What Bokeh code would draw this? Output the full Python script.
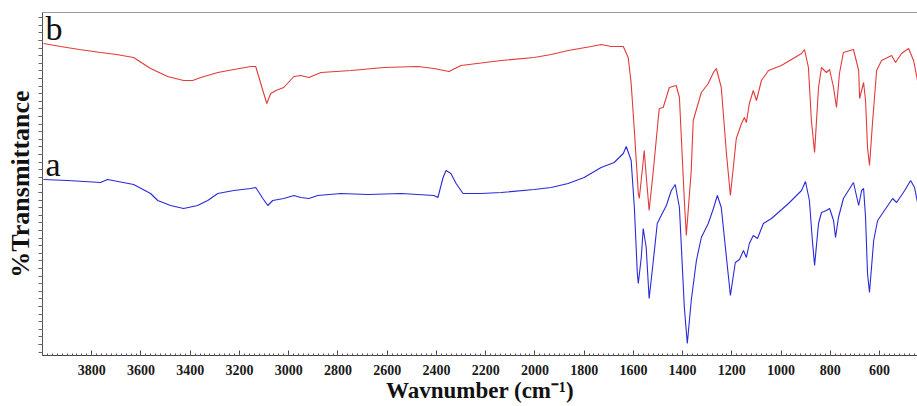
from bokeh.plotting import figure
from bokeh.models import Range1d, FixedTicker, LinearAxis, Label
from bokeh.embed import file_html
from bokeh.resources import INLINE
import numpy as np

# Spectrum b (red)
wn_b = [3996, 3927, 3850, 3764, 3700, 3630, 3561, 3492, 3427, 3390, 3357, 3288, 3223, 3154, 3134, 3105, 3089,
        3073, 3052, 3020, 2979, 2951, 2918, 2869, 2747, 2613, 2475, 2410, 2349, 2300, 2137,
        2003, 1934, 1865, 1771, 1731, 1690, 1678, 1641, 1621, 1609, 1596, 1580, 1576, 1564,
        1556, 1548, 1536, 1519, 1495, 1479, 1454, 1426, 1413, 1393, 1385, 1365, 1357, 1324,
        1296, 1275, 1263, 1243, 1222, 1206, 1182, 1161, 1149, 1141, 1129, 1113, 1100, 1080,
        1051, 999, 917, 905, 889, 877, 864, 848, 836, 816, 803, 787, 775, 763, 747, 706,
        685, 681, 665, 657, 649, 641, 628, 612, 592, 551, 535, 511, 482, 462, 446]
t_b = [312, 309, 306, 303, 301, 298, 287, 279, 275, 275, 278, 283, 286, 289, 289, 265, 252,
       262, 265, 268, 279, 280, 278, 283, 285, 288, 289, 287, 284, 290, 295,
       298, 301, 305, 309, 311, 309, 309, 309, 298, 272, 225, 162, 157, 185,
       205, 180, 145, 185, 247, 248, 268, 270, 258, 155, 120, 185, 235, 263,
       272, 283, 287, 268, 202, 160, 217, 232, 238, 233, 252, 265, 255, 275,
       285, 290, 302, 306, 288, 235, 203, 268, 288, 283, 286, 268, 248, 282, 303, 306,
       285, 257, 273, 255, 208, 190, 235, 285, 295, 300, 293, 302, 307, 295, 275]

# Spectrum a (blue)
wn_a = [3996, 3898, 3764, 3736, 3630, 3561, 3532, 3480, 3427, 3370, 3329, 3288, 3223, 3154,
        3134, 3105, 3085, 3065, 3020, 2979, 2951, 2918, 2882, 2788, 2678, 2544, 2410, 2394,
        2373, 2361, 2341, 2320, 2292, 2219, 2137, 2003, 1934, 1865, 1800, 1731, 1678, 1641,
        1629, 1609, 1596, 1584, 1580, 1568, 1560, 1548, 1536, 1519, 1503, 1487, 1466, 1446,
        1430, 1413, 1393, 1381, 1365, 1344, 1324, 1296, 1275, 1259, 1243, 1222, 1206, 1186,
        1169, 1153, 1141, 1129, 1113, 1096, 1072, 1039, 970, 917, 901, 885, 873, 864, 848,
        836, 816, 803, 787, 779, 767, 747, 706, 685, 673, 665, 657, 649, 641, 624, 608,
        572, 547, 531, 498, 474, 458, 446]
t_a = [176, 175, 173, 176, 171, 162, 155, 150, 147, 150, 155, 162, 165, 167,
       168, 157, 150, 155, 157, 160, 158, 157, 160, 162, 161, 162, 160, 158,
       178, 185, 182, 172, 162, 162, 163, 166, 168, 172, 178, 188, 193, 202,
       209, 195, 148, 82, 72, 98, 127, 108, 57, 95, 132, 140, 150, 165,
       171, 148, 48, 12, 55, 95, 118, 132, 147, 160, 148, 98, 60, 93,
       96, 105, 98, 112, 120, 117, 132, 137, 152, 165, 174, 155, 115, 90, 132,
       143, 145, 147, 135, 118, 138, 157, 173, 150, 165, 167, 138, 82, 63, 115, 135,
       148, 157, 153, 165, 175, 168, 153]

x_ticks = [3800, 3600, 3400, 3200, 3000, 2800, 2600, 2400, 2200, 2000, 1800, 1600, 1400, 1200, 1000, 800, 600]
y_tick_marks = [11, 49, 87, 125, 163, 201, 239, 277, 315]

serif = "Liberation Serif"

p = figure(width=917, height=406, output_backend="svg", toolbar_location=None,
           x_range=Range1d(4000, 446), y_range=Range1d(0, 343),
           min_border_left=42, min_border_right=0, min_border_top=12, min_border_bottom=51)
p.grid.visible = False
p.outline_line_color = None
p.background_fill_color = "white"

p.line(wn_b, t_b, line_color="#e23a3a", line_width=1.1)
p.line(wn_a, t_a, line_color="#2a2ad6", line_width=1.1)

# bottom axis
xa = p.xaxis[0]
xa.ticker = FixedTicker(ticks=x_ticks, minor_ticks=list(range(440, 4001, 20)))
xa.major_tick_in = 5
xa.major_tick_out = 0
xa.minor_tick_in = 2
xa.minor_tick_out = 0
xa.axis_line_color = "#444444"
xa.major_tick_line_color = "#444444"
xa.minor_tick_line_color = "#555555"
xa.major_label_text_font = serif
xa.major_label_text_font_style = "bold"
xa.major_label_text_font_size = "14px"
xa.major_label_text_color = "#1a1a1a"
xa.major_label_standoff = 9
xa.axis_label = "Wavnumber (cm\u207b\u00b9)"
xa.axis_label_text_font = serif
xa.axis_label_text_font_style = "bold"
xa.axis_label_text_font_size = "23px"
xa.axis_label_text_color = "#111111"
xa.axis_label_standoff = 0

# left axis: tick marks only
ya = p.yaxis[0]
ya.ticker = FixedTicker(ticks=[], minor_ticks=list(np.arange(3.4, 343, 7.6)) + y_tick_marks)
ya.major_tick_in = 0
ya.major_tick_out = 0
ya.minor_tick_in = 0
ya.minor_tick_out = 4
ya.axis_line_color = "#555555"
ya.minor_tick_line_color = "#666666"
ya.major_label_standoff = 0
ya.axis_label = "%Transmittance"
ya.axis_label_text_font = serif
ya.axis_label_text_font_style = "bold"
ya.axis_label_text_font_size = "26px"
ya.axis_label_text_color = "#111111"
ya.axis_label_standoff = 4

# top border line
top = LinearAxis(ticker=FixedTicker(ticks=[]),
                 major_tick_in=0, major_tick_out=0, minor_tick_in=0, minor_tick_out=0,
                 axis_line_color="#999999", major_label_standoff=0)
p.add_layout(top, "above")

p.add_layout(Label(x=3988, y=327, text="b", text_font=serif, text_font_size="34px",
                   text_baseline="alphabetic", text_color="#111111"))
p.add_layout(Label(x=3988, y=191, text="a", text_font=serif, text_font_size="34px",
                   text_baseline="alphabetic", text_color="#111111"))

open("out.html", "w").write(file_html(p, INLINE))
